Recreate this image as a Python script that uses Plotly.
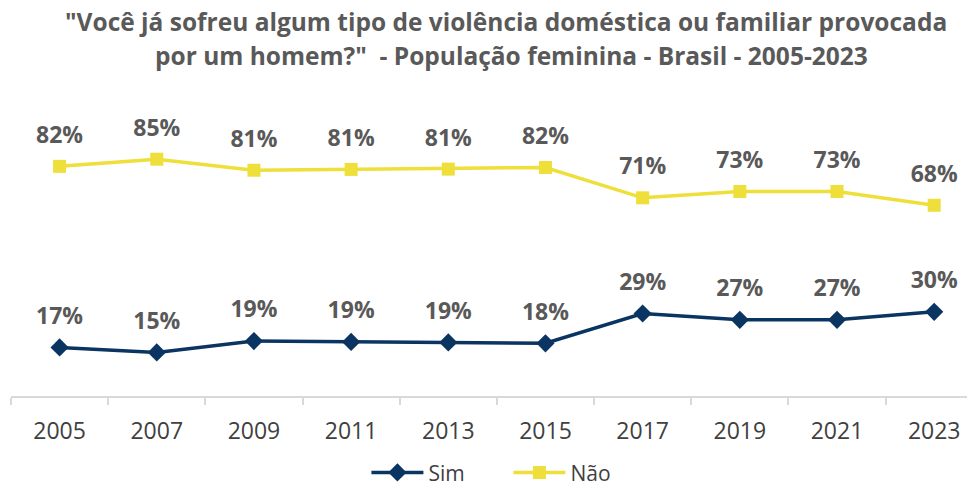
import plotly.graph_objects as go

years = ["2005", "2007", "2009", "2011", "2013", "2015", "2017", "2019", "2021", "2023"]
sim = [16.8, 15.0, 19.1, 18.8, 18.6, 18.3, 29.1, 26.8, 26.8, 29.7]
nao = [82.4, 85.0, 81.0, 81.3, 81.4, 82.0, 71.0, 73.3, 73.3, 68.3]

title_l1 = '"Você já sofreu algum tipo de violência doméstica ou familiar provocada'
title_l2 = 'por um homem?"\u00a0\u00a0- População feminina - Brasil - 2005-2023'

SIM_COLOR = "#0A3461"
NAO_COLOR = "#EFDF3B"
LABEL_COLOR = "#595959"
FONT = "Open Sans"

fig = go.Figure()
fig.add_trace(go.Scatter(
    x=years, y=sim, name="Sim", mode="lines+markers",
    line=dict(color=SIM_COLOR, width=3.5),
    marker=dict(symbol="diamond", size=14, color=SIM_COLOR),
    cliponaxis=False,
))
fig.add_trace(go.Scatter(
    x=years, y=nao, name="Não", mode="lines+markers",
    line=dict(color=NAO_COLOR, width=3.5),
    marker=dict(symbol="square", size=13, color=NAO_COLOR),
    cliponaxis=False,
))

# data labels: text above each point (transparent spacer marker sets the gap)
for series in (sim, nao):
    fig.add_trace(go.Scatter(
        x=years, y=series, mode="markers+text",
        text=[f"{v:.0f}%" for v in series], textposition="top center",
        textfont=dict(family=FONT, size=23, color=LABEL_COLOR, weight="bold"),
        marker=dict(size=27, color="rgba(0,0,0,0)"),
        showlegend=False, hoverinfo="skip", cliponaxis=False,
    ))

annotations = [
    dict(x=0.5135, y=1.356, xref="paper", yref="paper", text=title_l1, showarrow=False,
         xanchor="center", yanchor="middle", borderpad=0,
         font=dict(family=FONT, size=24.5, color=LABEL_COLOR, weight="bold")),
    dict(x=0.5197, y=1.233, xref="paper", yref="paper", text=title_l2, showarrow=False,
         xanchor="center", yanchor="middle", borderpad=0,
         font=dict(family=FONT, size=24.5, color=LABEL_COLOR, weight="bold")),
]

fig.update_layout(
    width=967, height=500,
    margin=dict(l=3, r=0, t=112, b=112),
    paper_bgcolor="white", plot_bgcolor="white",
    font=dict(family=FONT, color="#404040"),
    annotations=annotations,
    showlegend=True,
    legend=dict(
        orientation="h", x=0.516, xanchor="center", y=-0.278, yanchor="middle",
        font=dict(family=FONT, size=21, color="#404040"),
        itemwidth=52, entrywidth=75, entrywidthmode="pixels",
    ),
    xaxis=dict(
        type="category", range=[-0.5, 9.42],
        showline=True, linecolor="#D9D9D9", linewidth=1.5,
        ticks="outside", tickson="boundaries", ticklen=7, tickcolor="#D9D9D9", tickwidth=1.5,
        showgrid=False, tickfont=dict(family=FONT, size=23, color="#404040"),
        ticklabelstandoff=14,
    ),
    yaxis=dict(
        range=[-0.8, 99.2], showticklabels=False, ticks="", showline=False,
        showgrid=False, zeroline=False,
    ),
)

fig.write_html("out.html")
